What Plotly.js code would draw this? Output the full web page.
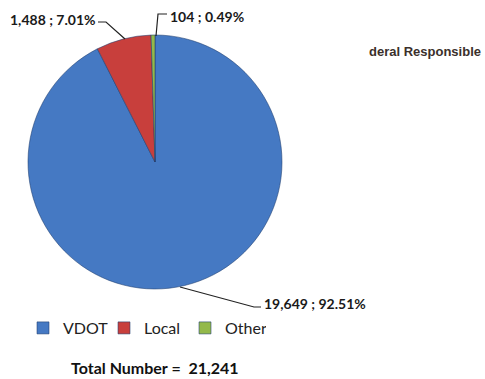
<!DOCTYPE html>
<html><head>
<meta charset="utf-8">
<script src="https://cdn.plot.ly/plotly-3.0.1.min.js"></script>
<style>html,body{margin:0;padding:0;background:#fff}</style>
</head><body>
<div id="chart" style="width:485px;height:379px"></div>
<script>
// ---- data ----
const categories = ['VDOT', 'Local', 'Other'];
const counts = [19649, 1488, 104];
const sliceColors = ['#4579c3', '#c83f3c', '#93b94a'];
const totalPrefix = 'Total Number =  ';
const sideTitle = 'deral Responsible';

// ---- helpers ----
const W = 485, H = 379;
const px = x => x / W;
const py = y => 1 - y / H;
const total = counts.reduce((a, b) => a + b, 0);
const fmt = n => n.toLocaleString('en-US');
const pct = n => (n / total * 100).toFixed(2) + '%';
const labelText = i => fmt(counts[i]) + ' ; ' + pct(counts[i]);

// label placement (layout only): [x, y, anchor]
const labelPos = [
  [262, 303, 'left'],
  [98, 19, 'right'],
  [168, 16, 'left']
];
// leader line paths in pixel coords
const leaders = [
  [[180, 287], [254, 307], [261, 307]],
  [[125, 39], [106, 22], [98, 22]],
  [[156, 36], [158, 14], [167, 14]]
];

const labelFont = {family: 'Lato, "Open Sans", sans-serif', size: 14, color: '#1a1a1a', weight: 700};

const annotations = categories.map((c, i) => ({
  xref: 'paper', yref: 'paper',
  x: px(labelPos[i][0]), y: py(labelPos[i][1]),
  xanchor: labelPos[i][2], yanchor: 'middle',
  text: '<b>' + labelText(i) + '</b>',
  showarrow: false, font: labelFont
}));
annotations.push({
  xref: 'paper', yref: 'paper', x: px(155), y: py(367),
  xanchor: 'center', yanchor: 'middle',
  text: '<b>' + totalPrefix + fmt(total) + '</b>', showarrow: false,
  font: {family: 'Lato, sans-serif', size: 16, color: '#111'}
});
annotations.push({
  xref: 'paper', yref: 'paper', x: px(367), y: py(52),
  xanchor: 'left', yanchor: 'middle',
  text: '<b>' + sideTitle + '</b>', showarrow: false,
  font: {family: '"Liberation Sans", Arial, sans-serif', size: 13, color: '#3b302b'}
});

const shapes = leaders.map(pts => ({
  type: 'path', xref: 'paper', yref: 'paper',
  path: pts.map((p, k) => (k ? 'L' : 'M') + px(p[0]) + ',' + py(p[1])).join(' '),
  line: {color: '#222', width: 1.2}
}));

const trace = {
  type: 'pie',
  labels: categories,
  values: counts,
  sort: false,
  direction: 'clockwise',
  rotation: 0,
  textinfo: 'none',
  hoverinfo: 'label+value+percent',
  marker: {colors: sliceColors, line: {color: 'rgba(30,60,110,0.55)', width: 1}},
  domain: {x: [px(28), px(282)], y: [py(289), py(35)]}
};

const layout = {
  width: W, height: H,
  margin: {l: 0, r: 0, t: 0, b: 0},
  paper_bgcolor: '#fff',
  showlegend: true,
  legend: {
    orientation: 'h', x: px(23), y: py(328), xanchor: 'left', yanchor: 'middle',
    entrywidth: 36,
    font: {family: 'Lato, sans-serif', size: 16, color: '#222'},
    itemclick: false, itemdoubleclick: false
  },
  annotations: annotations,
  shapes: shapes
};

Plotly.newPlot('chart', [trace], layout, {displayModeBar: false, staticPlot: true});
</script>
</body></html>
